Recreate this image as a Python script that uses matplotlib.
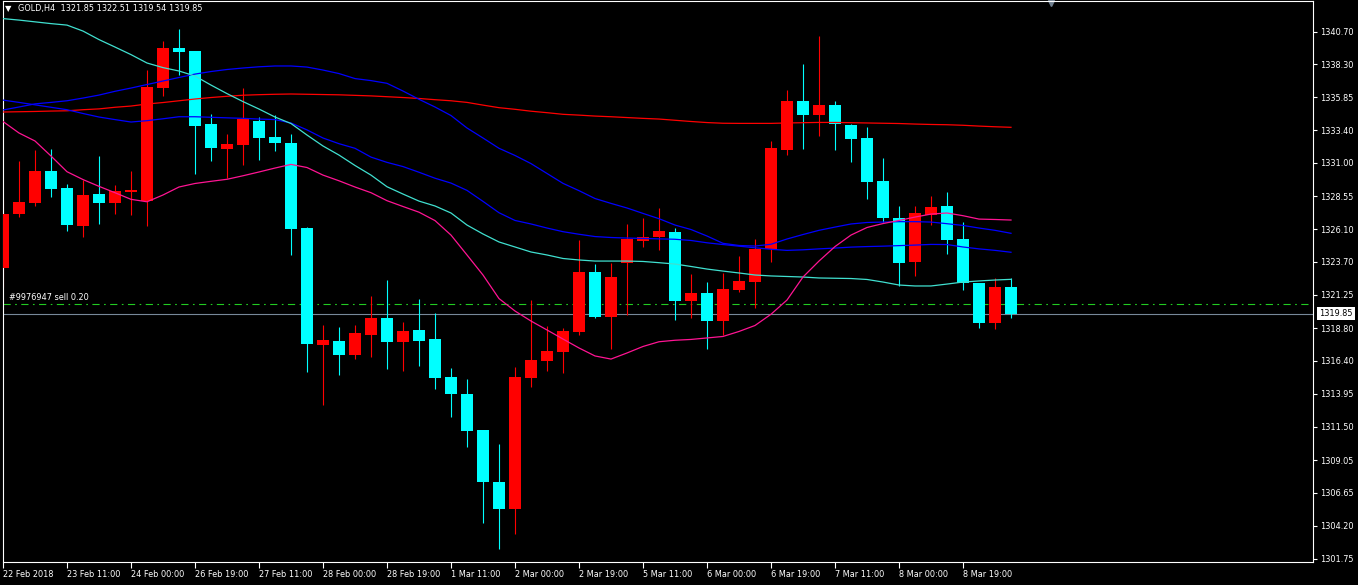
import numpy as np
import matplotlib
matplotlib.use("Agg")
import matplotlib.pyplot as plt

# GOLD H4 candles, oldest first
opens = [1323.24, 1327.25, 1328.06, 1330.40, 1329.12, 1326.34, 1328.70, 1328.06,
         1328.85, 1328.16, 1336.55, 1339.48, 1339.29, 1333.87, 1332.05, 1332.32,
         1334.09, 1332.93, 1332.45, 1326.17, 1317.55, 1317.84, 1316.81, 1318.29,
         1319.54, 1317.77, 1318.66, 1317.99, 1315.18, 1313.93, 1311.27, 1307.43,
         1305.44, 1315.11, 1316.37, 1317.03, 1318.51, 1322.94, 1319.62, 1323.60,
         1325.23, 1325.53, 1325.89, 1320.80, 1321.39, 1319.32, 1321.61, 1322.20,
         1324.64, 1331.95, 1335.57, 1334.54, 1335.27, 1333.80, 1332.84, 1329.66,
         1326.93, 1323.68, 1327.15, 1327.81, 1325.38, 1322.13, 1319.17, 1321.85]
highs = [1328.26, 1331.14, 1331.93, 1332.03, 1329.46, 1329.71, 1331.53, 1329.37,
         1330.40, 1337.86, 1340.00, 1340.89, 1339.29, 1334.61, 1333.13, 1336.53,
         1334.39, 1334.54, 1333.13, 1326.24, 1319.03, 1318.88, 1319.03, 1321.17,
         1322.35, 1319.25, 1320.95, 1319.91, 1315.85, 1315.04, 1311.27, 1310.24,
         1315.92, 1320.87, 1318.95, 1318.80, 1325.30, 1323.53, 1323.60, 1326.49,
         1326.93, 1327.67, 1326.19, 1322.79, 1322.20, 1322.87, 1324.12, 1325.38,
         1332.62, 1336.38, 1338.30, 1340.37, 1335.57, 1333.87, 1333.65, 1331.36,
         1327.81, 1327.81, 1328.55, 1328.85, 1326.63, 1322.13, 1322.50, 1322.51]
lows = [1321.83, 1327.02, 1327.84, 1328.50, 1325.99, 1325.53, 1326.51, 1327.25,
        1327.15, 1326.34, 1335.94, 1337.49, 1330.20, 1331.16, 1329.90, 1330.86,
        1331.23, 1331.90, 1324.20, 1315.58, 1313.12, 1315.33, 1316.51, 1316.66,
        1315.78, 1315.63, 1315.99, 1314.30, 1312.23, 1310.01, 1304.40, 1302.48,
        1303.59, 1314.45, 1315.63, 1315.48, 1318.29, 1319.54, 1317.25, 1319.76,
        1324.79, 1324.56, 1319.39, 1319.54, 1317.25, 1318.29, 1321.46, 1320.28,
        1323.68, 1331.58, 1332.02, 1332.98, 1331.95, 1331.06, 1328.33, 1326.63,
        1321.91, 1322.64, 1326.41, 1324.27, 1321.61, 1318.80, 1318.73, 1319.54]
closes = [1327.22, 1328.11, 1330.40, 1329.09, 1326.41, 1328.63, 1328.06, 1328.92,
          1328.97, 1336.63, 1339.48, 1339.21, 1333.75, 1332.12, 1332.39, 1334.26,
          1332.86, 1332.49, 1326.14, 1317.60, 1317.92, 1316.81, 1318.46, 1319.54,
          1317.77, 1318.58, 1317.84, 1315.11, 1313.93, 1311.20, 1307.43, 1305.44,
          1315.18, 1316.44, 1317.10, 1318.58, 1322.94, 1319.62, 1322.57, 1325.38,
          1325.53, 1325.97, 1320.80, 1321.39, 1319.32, 1321.68, 1322.28, 1324.64,
          1332.10, 1335.57, 1334.54, 1335.27, 1333.87, 1332.76, 1329.59, 1326.93,
          1323.60, 1327.30, 1327.74, 1325.30, 1322.13, 1319.17, 1321.83, 1319.85]

# moving average lines, one value per bar
ma_cyan = [1341.66, 1341.55, 1341.42, 1341.29, 1341.18, 1340.74, 1340.11, 1339.56,
           1339.00, 1338.38, 1338.04, 1337.79, 1337.42, 1336.75, 1336.12, 1335.53,
           1334.98, 1334.39, 1333.91, 1333.06, 1332.25, 1331.58, 1330.81, 1330.10,
           1329.24, 1328.70, 1328.18, 1327.82, 1327.30, 1326.41, 1325.75, 1325.16,
           1324.79, 1324.42, 1324.20, 1323.94, 1323.83, 1323.75, 1323.75, 1323.75,
           1323.72, 1323.63, 1323.53, 1323.35, 1323.16, 1323.01, 1322.87, 1322.72,
           1322.65, 1322.61, 1322.57, 1322.50, 1322.48, 1322.46, 1322.39, 1322.20,
           1321.98, 1321.91, 1321.91, 1322.05, 1322.20, 1322.28, 1322.35, 1322.40]
ma_blue1 = [1334.91, 1335.13, 1335.36, 1335.47, 1335.59, 1335.79, 1336.01, 1336.29,
            1336.53, 1336.79, 1337.05, 1337.31, 1337.56, 1337.75, 1337.90, 1338.01,
            1338.10, 1338.16, 1338.16, 1338.08, 1337.86, 1337.60, 1337.23, 1337.08,
            1336.88, 1336.31, 1335.70, 1335.13, 1334.50, 1333.58, 1332.84, 1332.08,
            1331.55, 1330.95, 1330.22, 1329.49, 1328.95, 1328.37, 1328.01, 1327.67,
            1327.27, 1326.88, 1326.41, 1326.08, 1325.60, 1325.06, 1324.90, 1324.86,
            1324.99, 1325.38, 1325.71, 1326.02, 1326.26, 1326.49, 1326.60, 1326.63,
            1326.66, 1326.66, 1326.63, 1326.51, 1326.38, 1326.19, 1326.02, 1325.80]
ma_blue2 = [1335.64, 1335.47, 1335.29, 1335.11, 1334.93, 1334.65, 1334.39, 1334.20,
            1334.02, 1334.12, 1334.26, 1334.41, 1334.41, 1334.37, 1334.33, 1334.29,
            1334.24, 1334.20, 1333.95, 1333.44, 1332.84, 1332.42, 1332.08, 1331.43,
            1331.04, 1330.73, 1330.31, 1329.87, 1329.51, 1328.97, 1328.16, 1327.32,
            1326.75, 1326.49, 1326.19, 1325.92, 1325.73, 1325.56, 1325.49, 1325.45,
            1325.42, 1325.39, 1325.36, 1325.27, 1325.10, 1324.97, 1324.85, 1324.73,
            1324.62, 1324.54, 1324.58, 1324.65, 1324.71, 1324.78, 1324.82, 1324.85,
            1324.89, 1324.93, 1324.98, 1324.97, 1324.79, 1324.65, 1324.54, 1324.40]
ma_red = [1334.76, 1334.78, 1334.80, 1334.83, 1334.85, 1334.93, 1334.99, 1335.11,
          1335.20, 1335.35, 1335.46, 1335.59, 1335.72, 1335.83, 1335.92, 1336.00,
          1336.04, 1336.07, 1336.09, 1336.07, 1336.05, 1336.03, 1335.99, 1335.95,
          1335.89, 1335.83, 1335.76, 1335.67, 1335.59, 1335.47, 1335.27, 1335.08,
          1334.96, 1334.82, 1334.71, 1334.59, 1334.53, 1334.46, 1334.41, 1334.35,
          1334.29, 1334.24, 1334.15, 1334.06, 1333.98, 1333.93, 1333.92, 1333.92,
          1333.92, 1333.95, 1333.97, 1333.99, 1333.99, 1333.97, 1333.95, 1333.93,
          1333.91, 1333.87, 1333.84, 1333.82, 1333.78, 1333.72, 1333.67, 1333.63]
ma_pink = [1334.06, 1333.21, 1332.62, 1331.51, 1330.35, 1329.77, 1329.27, 1328.80,
           1328.31, 1328.13, 1328.63, 1329.22, 1329.48, 1329.64, 1329.79, 1330.05,
           1330.33, 1330.62, 1330.89, 1330.66, 1330.10, 1329.68, 1329.22, 1328.80,
           1328.21, 1327.78, 1327.36, 1326.74, 1325.67, 1324.20, 1322.72, 1320.98,
           1320.06, 1319.32, 1318.66, 1317.99, 1317.33, 1316.74, 1316.51, 1316.96,
           1317.44, 1317.79, 1317.90, 1317.96, 1318.07, 1318.18, 1318.55, 1318.99,
           1319.82, 1320.87, 1322.57, 1323.75, 1324.82, 1325.67, 1326.23, 1326.52,
           1326.75, 1327.00, 1327.22, 1327.30, 1327.10, 1326.85, 1326.82, 1326.78]

date_labels = ["22 Feb 2018", "23 Feb 11:00", "24 Feb 00:00", "26 Feb 19:00",
               "27 Feb 11:00", "28 Feb 00:00", "28 Feb 19:00", "1 Mar 11:00",
               "2 Mar 00:00", "2 Mar 19:00", "5 Mar 11:00", "6 Mar 00:00",
               "6 Mar 19:00", "7 Mar 11:00", "8 Mar 00:00", "8 Mar 19:00"]
price_ticks = [1340.70, 1338.30, 1335.85, 1333.40, 1331.00, 1328.55, 1326.10,
               1323.70, 1321.25, 1318.80, 1316.40, 1313.95, 1311.50, 1309.05,
               1306.65, 1304.20, 1301.75]

order_price = 1320.55
bid_price = 1319.85

W, H = 1358, 585
fig = plt.figure(figsize=(W / 100, H / 100), dpi=100, facecolor="black")
ax = fig.add_axes([2.5 / W, 23 / H, 1310.5 / W, 561 / H])
ax.set_facecolor("black")

o = np.array(opens)
c = np.array(closes)
x = np.arange(len(o))
colors = np.where(c >= o, "#FF0000", "#00FFFF")

# order line and bid line
ax.axhline(order_price, color="#22CC22", lw=0.8, ls=(0, (6.5, 4, 1.5, 4)), zorder=1)
ax.axhline(bid_price, color="#778899", lw=0.8, zorder=1)

# candles
ax.vlines(x, lows, highs, colors=colors, lw=0.8, zorder=2)
body_low = np.minimum(o, c)
body_h = np.maximum(np.abs(c - o), 0.08)
ax.bar(x, body_h, bottom=body_low, width=0.69, color=colors, linewidth=0, zorder=3)

# moving averages
ax.plot(x, ma_red, color="#FF0000", lw=0.9, zorder=4)
ax.plot(x, ma_blue1, color="#0000FF", lw=0.9, zorder=4)
ax.plot(x, ma_blue2, color="#0000FF", lw=0.9, zorder=4)
ax.plot(x, ma_cyan, color="#40E0D0", lw=0.9, zorder=4)
ax.plot(x, ma_pink, color="#FF1493", lw=0.9, zorder=4)

ax.set_xlim(-0.03, 81.875)
ax.set_ylim(1301.52, 1342.96)

for s in ax.spines.values():
    s.set_color("white")
    s.set_linewidth(0.8)

ax.set_xticks(x[::4][:len(date_labels)])
ax.set_xticklabels(date_labels, ha="left")
ax.yaxis.tick_right()
ax.set_yticks(price_ticks)
ax.set_yticklabels([f"{v:.2f}" for v in price_ticks])
ax.tick_params(axis="x", colors="white", length=4, width=0.8, labelsize=5.9, pad=2)
ax.tick_params(axis="y", colors="white", length=3, width=0.8, labelsize=5.9, pad=2)

# texts
fig.text(5 / W, 1 - 8.5 / H, "\u25BC", color="white", fontsize=6, va="center", ha="left")
fig.text(18 / W, 1 - 8 / H, "GOLD,H4  1321.85 1322.51 1319.54 1319.85",
         color="white", fontsize=5.9, va="center", ha="left")
ax.annotate("#9976947 sell 0.20", xy=(0, order_price), xytext=(6, 7),
            textcoords="offset pixels", color="white", fontsize=5.9, va="center")
ax.annotate(f"{bid_price:.2f}", xy=(1, bid_price), xycoords=("axes fraction", "data"),
            xytext=(6, 0), textcoords="offset pixels", color="black", fontsize=5.9,
            va="center", ha="left",
            bbox=dict(boxstyle="square,pad=0.25", fc="white", ec="none"))

# chart shift marker
ax.plot([0.8], [0.997], marker="v", color="#708090", markersize=5,
        transform=ax.transAxes, clip_on=False)

fig.savefig("out.png", dpi=100, facecolor="black")
